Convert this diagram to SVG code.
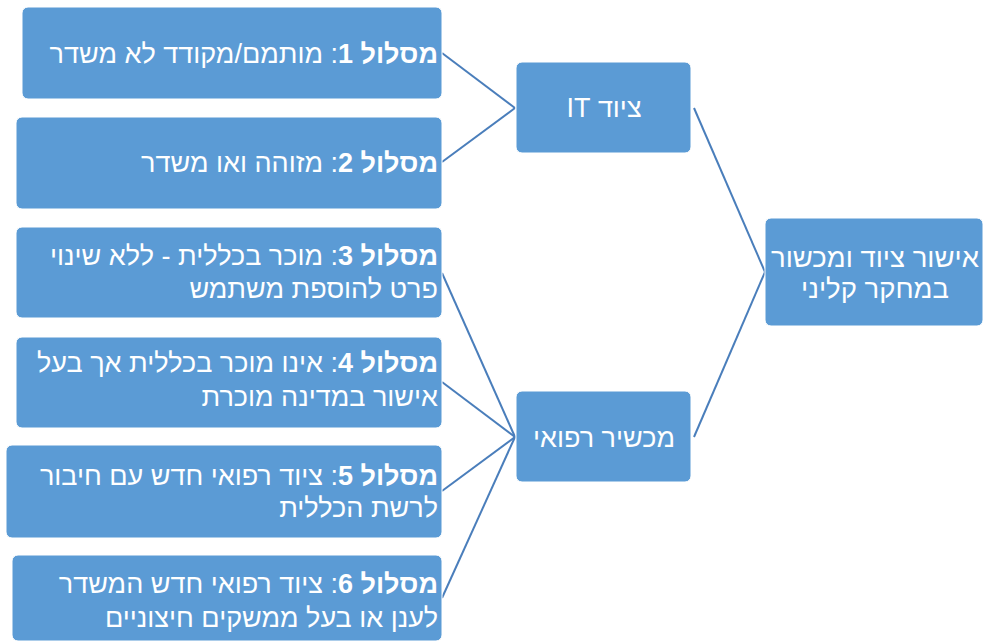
<svg xmlns="http://www.w3.org/2000/svg" width="984" height="643" viewBox="0 0 984 643">
<style>
.box{fill:#5b9bd5;stroke:#ffffff;stroke-width:1}
.t{fill:#ffffff;font-family:"Liberation Sans",Arial,sans-serif;font-size:27px;direction:rtl;unicode-bidi:embed}
.b{font-weight:bold}
.c{fill:none;stroke:#4a7ebb;stroke-width:2}
</style>
<rect width="984" height="643" fill="#ffffff"/>
<g id="connectors">
<line class="c" x1="442" y1="53" x2="515" y2="108"/>
<line class="c" x1="442" y1="162" x2="515" y2="108"/>
<line class="c" x1="442" y1="273" x2="515" y2="437"/>
<line class="c" x1="442" y1="382" x2="515" y2="437"/>
<line class="c" x1="442" y1="491" x2="515" y2="437"/>
<line class="c" x1="442" y1="598" x2="515" y2="437"/>
<line class="c" x1="694" y1="108" x2="765" y2="272"/>
<line class="c" x1="694" y1="437" x2="765" y2="272"/>
</g>
<g id="n1"><rect class="box" x="22" y="7" width="420" height="92" rx="6"/>
<text class="t" x="438" y="63" text-anchor="start"><tspan class="b">מסלול 1</tspan>: מותמם/מקודד לא משדר</text></g>
<g id="n2"><rect class="box" x="16" y="117" width="426" height="92" rx="6"/>
<text class="t" x="438" y="172" text-anchor="start"><tspan class="b">מסלול 2</tspan>: מזוהה ואו משדר</text></g>
<g id="n3"><rect class="box" x="16" y="227" width="426" height="91" rx="6"/>
<text class="t" x="438" y="265" text-anchor="start"><tspan class="b">מסלול 3</tspan>: מוכר בכללית - ללא שינוי</text>
<text class="t" x="438" y="298" text-anchor="start">פרט להוספת משתמש</text></g>
<g id="n4"><rect class="box" x="16" y="337" width="426" height="91" rx="6"/>
<text class="t" x="438" y="372" text-anchor="start"><tspan class="b">מסלול 4</tspan>: אינו מוכר בכללית אך בעל</text>
<text class="t" x="438" y="406" text-anchor="start">אישור במדינה מוכרת</text></g>
<g id="n5"><rect class="box" x="6" y="445" width="436" height="93" rx="6"/>
<text class="t" x="438" y="485" text-anchor="start"><tspan class="b">מסלול 5</tspan>: ציוד רפואי חדש עם חיבור</text>
<text class="t" x="438" y="517" text-anchor="start">לרשת הכללית</text></g>
<g id="n6"><rect class="box" x="12" y="555" width="430" height="86" rx="6"/>
<text class="t" x="438" y="593" text-anchor="start"><tspan class="b">מסלול 6</tspan>: ציוד רפואי חדש המשדר</text>
<text class="t" x="438" y="627" text-anchor="start">לענן או בעל ממשקים חיצוניים</text></g>
<g id="it"><rect class="box" x="516" y="62" width="175" height="91" rx="6"/>
<text class="t" x="604" y="117" text-anchor="middle">ציוד IT</text></g>
<g id="med"><rect class="box" x="516" y="391" width="175" height="91" rx="6"/>
<text class="t" x="604" y="447" text-anchor="middle">מכשיר רפואי</text></g>
<g id="main"><rect class="box" x="765" y="218" width="218" height="108" rx="6"/>
<text class="t" x="875" y="267" text-anchor="middle" style="font-size:27.5px">אישור ציוד ומכשור</text>
<text class="t" x="875" y="298" text-anchor="middle" style="font-size:27.5px">במחקר קליני</text></g>
</svg>
